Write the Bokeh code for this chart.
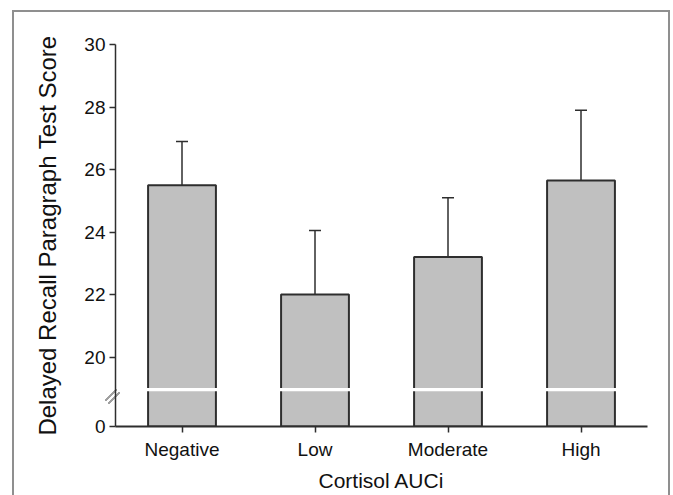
from bokeh.plotting import figure
from bokeh.models import (ColumnDataSource, FactorRange, Range1d, FixedTicker,
                          Whisker, TeeHead)
from bokeh.embed import file_html
from bokeh.resources import INLINE

# ---- data ----
categories = ["Negative", "Low", "Moderate", "High"]
means = [25.5, 22.0, 23.2, 25.65]
upper_err = [26.9, 24.05, 25.1, 27.9]
y_tick_values = [0, 20, 22, 24, 26, 28, 30]

# ---- broken axis transform (0..20 compressed) ----
BREAK_TOP = 20.0
GAP = 2.218  # display units given to the 0-20 segment


def to_disp(v):
    return v if v >= BREAK_TOP else BREAK_TOP - GAP * (BREAK_TOP - v) / BREAK_TOP


y0 = round(to_disp(0), 3)
break_y = 18.96

FONT = "Liberation Sans"
DARK = "#2e2e2e"
FRAME = "#8f8f8f"
SLASH = "#a0a0a0"

src = ColumnDataSource(dict(
    cat=categories,
    top=[to_disp(v) for v in means],
    err=[to_disp(v) for v in upper_err],
    bottom=[y0] * len(categories),
))

p = figure(x_range=FactorRange(*categories, range_padding=0),
           y_range=Range1d(y0, 30),
           width=673, height=495,
           min_border_left=115, min_border_right=26,
           min_border_top=44, min_border_bottom=69,
           output_backend="svg", toolbar_location=None)

p.background_fill_color = None
p.border_fill_color = None
p.outline_line_color = None
p.xgrid.visible = False
p.ygrid.visible = False

# outer frame (top, left, right) and axis-break slashes, painted behind the canvas
g = f"linear-gradient({FRAME},{FRAME})"
sl = f"linear-gradient(135deg, transparent 45%, {SLASH} 45%, {SLASH} 55%, transparent 55%)"
p.styles = {
    "background": (f"{sl} 105px 389px / 12px 12px no-repeat, "
                   f"{sl} 107.5px 391.5px / 12px 12px no-repeat, "
                   f"{g} 12px 10px / 658px 2px no-repeat, "
                   f"{g} 12px 10px / 2px 100% no-repeat, "
                   f"{g} 668px 10px / 2px 100% no-repeat, white"),
}

# bars
p.vbar(x="cat", top="top", bottom="bottom", width=0.51, source=src,
       fill_color="#c0c0c0", line_color=DARK, line_width=2)

# white break line across bars
p.vbar(x="cat", top=break_y + 0.05, bottom=break_y - 0.05, width=0.53,
       source=src, fill_color="white", line_color=None)

# error bars (upper only)
wh = Whisker(base="cat", lower="top", upper="err", source=src,
             dimension="height", line_color=DARK, line_width=1.5,
             upper_head=TeeHead(size=12, line_color=DARK, line_width=1.5),
             lower_head=None)
p.add_layout(wh)

# y axis
ticks = [to_disp(v) for v in y_tick_values]
ticks[0] = y0
yax = p.yaxis[0]
yax.ticker = FixedTicker(ticks=ticks)
yax.major_label_overrides = {y0: "0"}
yax.axis_label = "Delayed Recall Paragraph Test Score"
yax.axis_label_text_font = FONT
yax.axis_label_text_font_size = "24px"
yax.axis_label_text_font_style = "normal"
yax.axis_label_text_color = "#111111"
yax.axis_label_standoff = 20
yax.major_label_text_font = FONT
yax.major_label_text_font_size = "19px"
yax.major_label_text_color = "#111111"
yax.major_label_standoff = 4
yax.major_tick_out = 6
yax.major_tick_in = 0
yax.minor_tick_out = 0
yax.minor_tick_in = 0
yax.axis_line_color = DARK
yax.axis_line_width = 1.5
yax.major_tick_line_color = DARK
yax.major_tick_line_width = 1.5

# x axis
xax = p.xaxis[0]
xax.axis_label = "Cortisol AUCi"
xax.axis_label_text_font = FONT
xax.axis_label_text_font_size = "21px"
xax.axis_label_text_font_style = "normal"
xax.axis_label_text_color = "#111111"
xax.axis_label_standoff = 6
xax.major_label_text_font = FONT
xax.major_label_text_font_size = "19px"
xax.major_label_text_color = "#111111"
xax.major_label_standoff = 6
xax.major_tick_out = 6
xax.major_tick_in = 0
xax.axis_line_color = DARK
xax.axis_line_width = 2
xax.major_tick_line_color = DARK
xax.major_tick_line_width = 1.5

open("out.html", "w").write(file_html(p, INLINE))
